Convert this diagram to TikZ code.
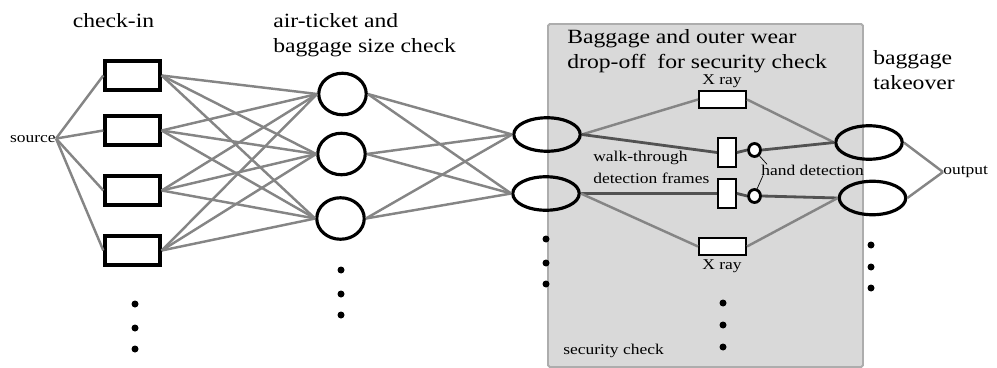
\documentclass[tikz,border=0pt]{standalone}
\usepackage{fontspec}
\setmainfont{Liberation Serif}[FakeStretch=1.17]
\usetikzlibrary{shapes.geometric}
\definecolor{wiregray}{gray}{0.52}
\definecolor{wiredark}{gray}{0.32}
\definecolor{zonefill}{gray}{0.85}
\definecolor{zoneedge}{gray}{0.68}
\tikzset{
  desk/.style={draw, line width=1.9pt, minimum width=1.1cm, minimum height=0.58cm, inner sep=0pt},
  checker/.style={ellipse, draw, line width=1.8pt, minimum width=0.95cm, minimum height=0.83cm, inner sep=0pt},
  gate/.style={ellipse, draw, line width=1.8pt, minimum width=1.33cm, minimum height=0.67cm, inner sep=0pt},
  xray/.style={draw, fill=white, line width=1.4pt, minimum width=0.93cm, minimum height=0.33cm, inner sep=0pt},
  walkframe/.style={draw, fill=white, line width=1.4pt, minimum width=0.35cm, minimum height=0.57cm, inner sep=0pt},
  handdet/.style={ellipse, draw, fill=white, line width=1.6pt, minimum width=0.24cm, minimum height=0.26cm, inner sep=0pt},
  wire/.style={wiregray, line width=1.4pt},
  darkwire/.style={wiredark, line width=1.6pt},
  title/.style={font=\fontsize{11.5}{14.7}\selectfont, inner sep=0pt, align=left},
  note/.style={font=\fontsize{8.5}{12.2}\selectfont, inner sep=0pt, align=left},
}
\begin{document}
\begin{tikzpicture}[x=0.02cm, y=-0.02cm]
    \useasboundingbox (0,0) rectangle (997,368);
    \def\dotr{0.07cm}
    % security check zone
    \filldraw[fill=zonefill, draw=zoneedge, line width=1.1pt, rounded corners=1pt] (548,24) rectangle (863,367);

    % check-in desks
    \node[desk] (b1) at (132.5,75.5) {};
    \node[desk] (b2) at (132.5,130.5) {};
    \node[desk] (b3) at (132.5,190.5) {};
    \node[desk] (b4) at (132.5,250.5) {};
    % air-ticket and baggage size check
    \node[checker] (a1) at (342.5,94) {};
    \node[checker] (a2) at (341.5,154) {};
    \node[checker] (a3) at (340.5,218.5) {};
    % drop-off gates
    \node[gate] (e1) at (547,134.5) {};
    \node[gate] (e2) at (546,193.5) {};
    % X ray, frames and hand detection
    \node[xray] (x1) at (722.5,99.5) {};
    \node[xray] (x2) at (722.5,246.5) {};
    \node[walkframe] (f1) at (727,152.5) {};
    \node[walkframe] (f2) at (727,193.5) {};
    \node[handdet] (h1) at (754.5,150) {};
    \node[handdet] (h2) at (754.5,196) {};
    % baggage takeover
    \node[gate] (t1) at (869,142.5) {};
    \node[gate] (t2) at (872.5,198) {};

    % labels (base is the last line)
    \node[title, anchor=base] (tcheck) at (113.5,28) {check-in};
    \node[title, anchor=base west] (tair) at (273,53) {air-ticket and\\baggage size check};
    \node[title, anchor=base west] (tdrop) at (567,69) {Baggage and outer wear\\drop-off\ \ for security check};
    \node[title, anchor=base west] (ttake) at (873,90) {baggage\\takeover};
    \node[note, anchor=base east] (src) at (56,142) {source};
    \node[note, anchor=west] (out) at (943,172) {output};
    \node[note, anchor=base west] (walk) at (593,183) {walk-through\\detection frames};
    \node[note, anchor=base west] (hand) at (761,175) {hand detection};
    \node[note, anchor=base] (lx1) at (722,85) {X ray};
    \node[note, anchor=base] (lx2) at (722,269) {X ray};
    \node[note, anchor=base west] (zone) at (563,354) {security check};

    % source to desks
    \draw[wire] (src.east) -- (b1.west);
    \draw[wire] (src.east) -- (b2.west);
    \draw[wire] (src.east) -- (b3.west);
    \draw[wire] (src.east) -- (b4.west);
    % desks to checkers
    \draw[wire] (b1.east) -- (a1.west);
    \draw[wire] (b1.east) -- (a2.west);
    \draw[wire] (b1.east) -- (a3.west);
    \draw[wire] (b2.east) -- (a1.west);
    \draw[wire] (b2.east) -- (a2.west);
    \draw[wire] (b2.east) -- (a3.west);
    \draw[wire] (b3.east) -- (a1.west);
    \draw[wire] (b3.east) -- (a2.west);
    \draw[wire] (b3.east) -- (a3.west);
    \draw[wire] (b4.east) -- (a1.west);
    \draw[wire] (b4.east) -- (a2.west);
    \draw[wire] (b4.east) -- (a3.west);
    % checkers to gates
    \draw[wire] (a1.east) -- (e1.west);
    \draw[wire] (a1.east) -- (e2.west);
    \draw[wire] (a2.east) -- (e1.west);
    \draw[wire] (a2.east) -- (e2.west);
    \draw[wire] (a3.east) -- (e1.west);
    \draw[wire] (a3.east) -- (e2.west);
    % inside the security check
    \draw[wire] (e1.east) -- (x1.west);
    \draw[darkwire] (e1.east) -- (f1.west);
    \draw[darkwire] (e2.east) -- (f2.west);
    \draw[wire] (e2.east) -- (x2.west);
    \draw[darkwire] (f1.east) -- (h1.west);
    \draw[darkwire] (f2.east) -- (h2.west);
    \draw[wire] (x1.east) -- (t1.west);
    \draw[darkwire] (h1.east) -- (t1.west);
    \draw[darkwire] (h2.east) -- (t2.west);
    \draw[wire] (x2.east) -- (t2.west);
    % takeover to output
    \draw[wire] (t1.east) -- (out.west);
    \draw[wire] (t2.east) -- (out.west);
    % leaders to hand detection
    \draw[line width=0.4pt] (h1.-50) -- ([xshift=0.12cm]hand.north west);
    \draw[line width=0.4pt] (h2.70) -- ([xshift=0.04cm]hand.south west);

    % more of the same
    \fill (135,304) circle (\dotr); \fill (135,328) circle (\dotr); \fill (135,349) circle (\dotr);
    \fill (341,270) circle (\dotr); \fill (341,294) circle (\dotr); \fill (341,315) circle (\dotr);
    \fill (546,239) circle (\dotr); \fill (546,263) circle (\dotr); \fill (546,284) circle (\dotr);
    \fill (723,303) circle (\dotr); \fill (723,325) circle (\dotr); \fill (723,347) circle (\dotr);
    \fill (871,245) circle (\dotr); \fill (871,267) circle (\dotr); \fill (871,288) circle (\dotr);
\end{tikzpicture}
\end{document}
